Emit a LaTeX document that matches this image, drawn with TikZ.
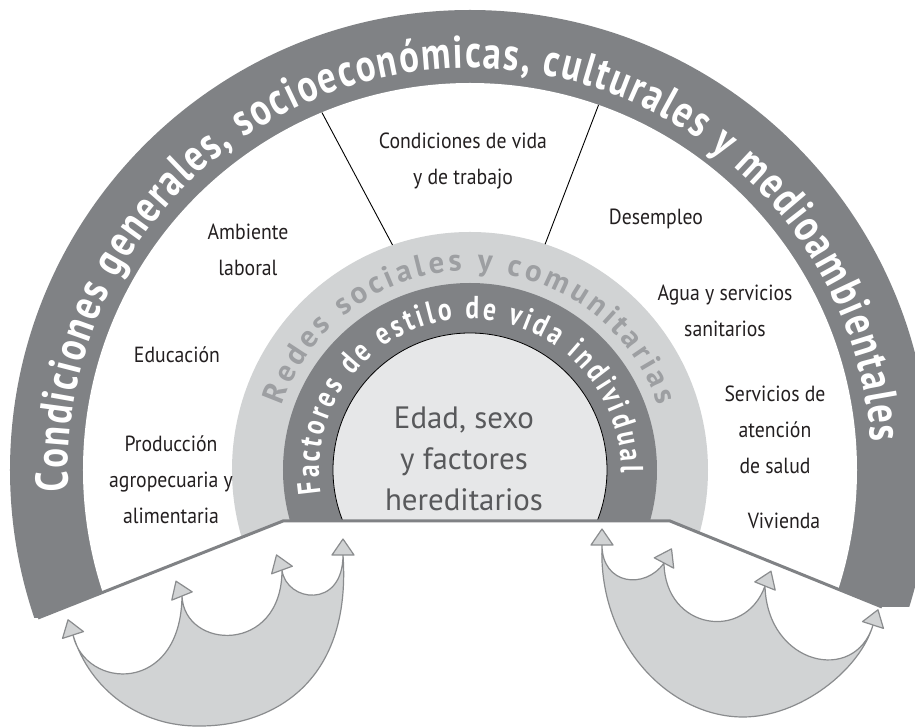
\documentclass[tikz,border=0pt]{standalone}
\usepackage{fontspec}
\setmainfont{PT Sans}
\newfontfamily\labelfont[FakeStretch=0.9]{PT Sans}
\newfontfamily\ringfont[FakeStretch=0.8]{PT Sans}
\newfontfamily\corefont{PT Sans}
\usetikzlibrary{decorations.text}
\definecolor{ringdark}{HTML}{808285}
\definecolor{ringlight}{HTML}{D1D3D4}
\definecolor{corefill}{HTML}{E6E7E8}
\definecolor{coretext}{HTML}{58595B}
\definecolor{redestext}{HTML}{9D9FA2}
\definecolor{labeltext}{HTML}{231F20}
\definecolor{arrowfill}{HTML}{D1D3D4}
\definecolor{arrowline}{HTML}{8A8C8E}

\begin{document}
\begin{tikzpicture}[x=1bp,y=1bp,
  factorlabel/.style={font=\labelfont\fontsize{22}{36}\selectfont, text=labeltext, align=center, inner sep=0pt},
  corelabel/.style={font=\corefont\fontsize{31}{41}\selectfont, text=coretext, align=center, inner sep=0pt},
  arrowbody/.style={fill=arrowfill, draw=arrowline, line width=1.2bp, line join=round},
  arrowtip/.style={fill=arrowfill, draw=arrowline, line width=1.2bp, line join=round},
  divider/.style={draw=black, line width=0.9bp},
  groundline/.style={draw=ringdark, line width=3bp, line join=miter},
  arrowhead/.pic={\draw[arrowtip] (0,-11) -- (16,0) -- (0,11) -- cycle;}
]
% page frame
\useasboundingbox (-470,-257) rectangle (445,470);
\fill[white] (-470,-257) rectangle (445,470);

% concentric rings, cut by the ground line
\begin{scope}
  \clip (-470,470) -- (445,470) -- (445,-137) -- (412,-137) -- (200,-51)
        -- (-187,-51) -- (-432,-148) -- (-470,-148) -- cycle;
  \fill[ringdark] (0,0) circle[radius=460];
  \fill[white] (0,0) circle[radius=387];
  \fill[ringlight] (0,0) circle[radius=238];
  \fill[ringdark] (0,0) circle[radius=187];
  \fill[corefill, draw=black, line width=0.8bp] (0,0) circle[radius=137];
\end{scope}

% ground line
\coordinate (gA) at (-432,-148);
\coordinate (gB) at (-187,-51);
\coordinate (gC) at (200,-51);
\coordinate (gD) at (412,-137);
\draw[groundline] (gA) -- (gB) -- (gC) -- (gD);

% dividers around "Condiciones de vida y de trabajo"
\coordinate (dLin) at (109:238);
\coordinate (dLout) at (112.5:387);
\coordinate (dRin) at (71.6:238);
\coordinate (dRout) at (70.6:387);
\draw[divider] (dLin) -- (dLout);
\draw[divider] (dRin) -- (dRout);

% ring titles
\path[decorate, decoration={text along path, text align={fit to path}, text color=white,
  text={|\ringfont\bfseries\fontsize{46}{46}\selectfont|Condiciones generales, socioeconómicas, culturales y medioambientales}}]
  (183:402) arc[start angle=183, end angle=4, radius=402];
\path[decorate, decoration={text along path, text align={fit to path}, text color=redestext,
  text={|\corefont\bfseries\fontsize{31}{31}\selectfont|Redes sociales y comunitarias}}]
  (161:199) arc[start angle=161, end angle=19, radius=199];
\path[decorate, decoration={text along path, text align={fit to path}, text color=white,
  text={|\ringfont\bfseries\fontsize{32}{32}\selectfont|Factores de estilo de vida individual}}]
  (189:151) arc[start angle=189, end angle=-1, radius=151];

% core
\node[corelabel] (core) at (-6,11) {Edad, sexo\\y factores\\hereditarios};

% factors in the white band
\node[factorlabel] (vida) at (-7,309) {Condiciones de vida\\y de trabajo};
\node[factorlabel] (ambiente) at (-222,220) {Ambiente\\laboral};
\node[factorlabel] (desempleo) at (186,251) {Desempleo};
\node[factorlabel] (educacion) at (-293,115) {Educación};
\node[factorlabel] (agua) at (255,159) {Agua y servicios\\sanitarios};
\node[factorlabel] (salud) at (305,40) {Servicios de\\atención\\de salud};
\node[factorlabel] (produccion) at (-299,-10) {Producción\\agropecuaria y\\alimentaria};
\node[factorlabel] (vivienda) at (314,-51) {Vivienda};

% left group of curved arrows
\coordinate (L0) at (-397,-165);
\coordinate (L1) at (-288,-126);
\coordinate (L2) at (-188,-100);
\coordinate (L3) at (-127,-85);
\coordinate (LB) at (-270,-256);
\path[arrowbody] (L0) .. controls (-380,-220) and (-330,-257) .. (LB)
  .. controls (-200,-256) and (-118,-215) .. (L3)
  .. controls (-127,-140) and (-184,-132) .. (L2)
  .. controls (-188,-185) and (-286,-180) .. (L1)
  .. controls (-289,-225) and (-385,-220) .. (L0) -- cycle;
\pic[rotate=108] at (L0) {arrowhead};
\pic[rotate=112] at (L1) {arrowhead};
\pic[rotate=110] at (L2) {arrowhead};
\pic[rotate=90] at (L3) {arrowhead};

% right group of curved arrows
\coordinate (R0) at (132,-75);
\coordinate (R1) at (194,-93);
\coordinate (R2) at (295,-116);
\coordinate (R3) at (403,-155);
\coordinate (RB) at (273,-247);
\path[arrowbody] (R0) .. controls (128,-175) and (200,-247) .. (RB)
  .. controls (330,-247) and (390,-200) .. (R3)
  .. controls (385,-215) and (297,-195) .. (R2)
  .. controls (275,-172) and (195,-160) .. (R1)
  .. controls (175,-120) and (132,-115) .. (R0) -- cycle;
\pic[rotate=90] at (R0) {arrowhead};
\pic[rotate=62] at (R1) {arrowhead};
\pic[rotate=68] at (R2) {arrowhead};
\pic[rotate=72] at (R3) {arrowhead};
\end{tikzpicture}
\end{document}
